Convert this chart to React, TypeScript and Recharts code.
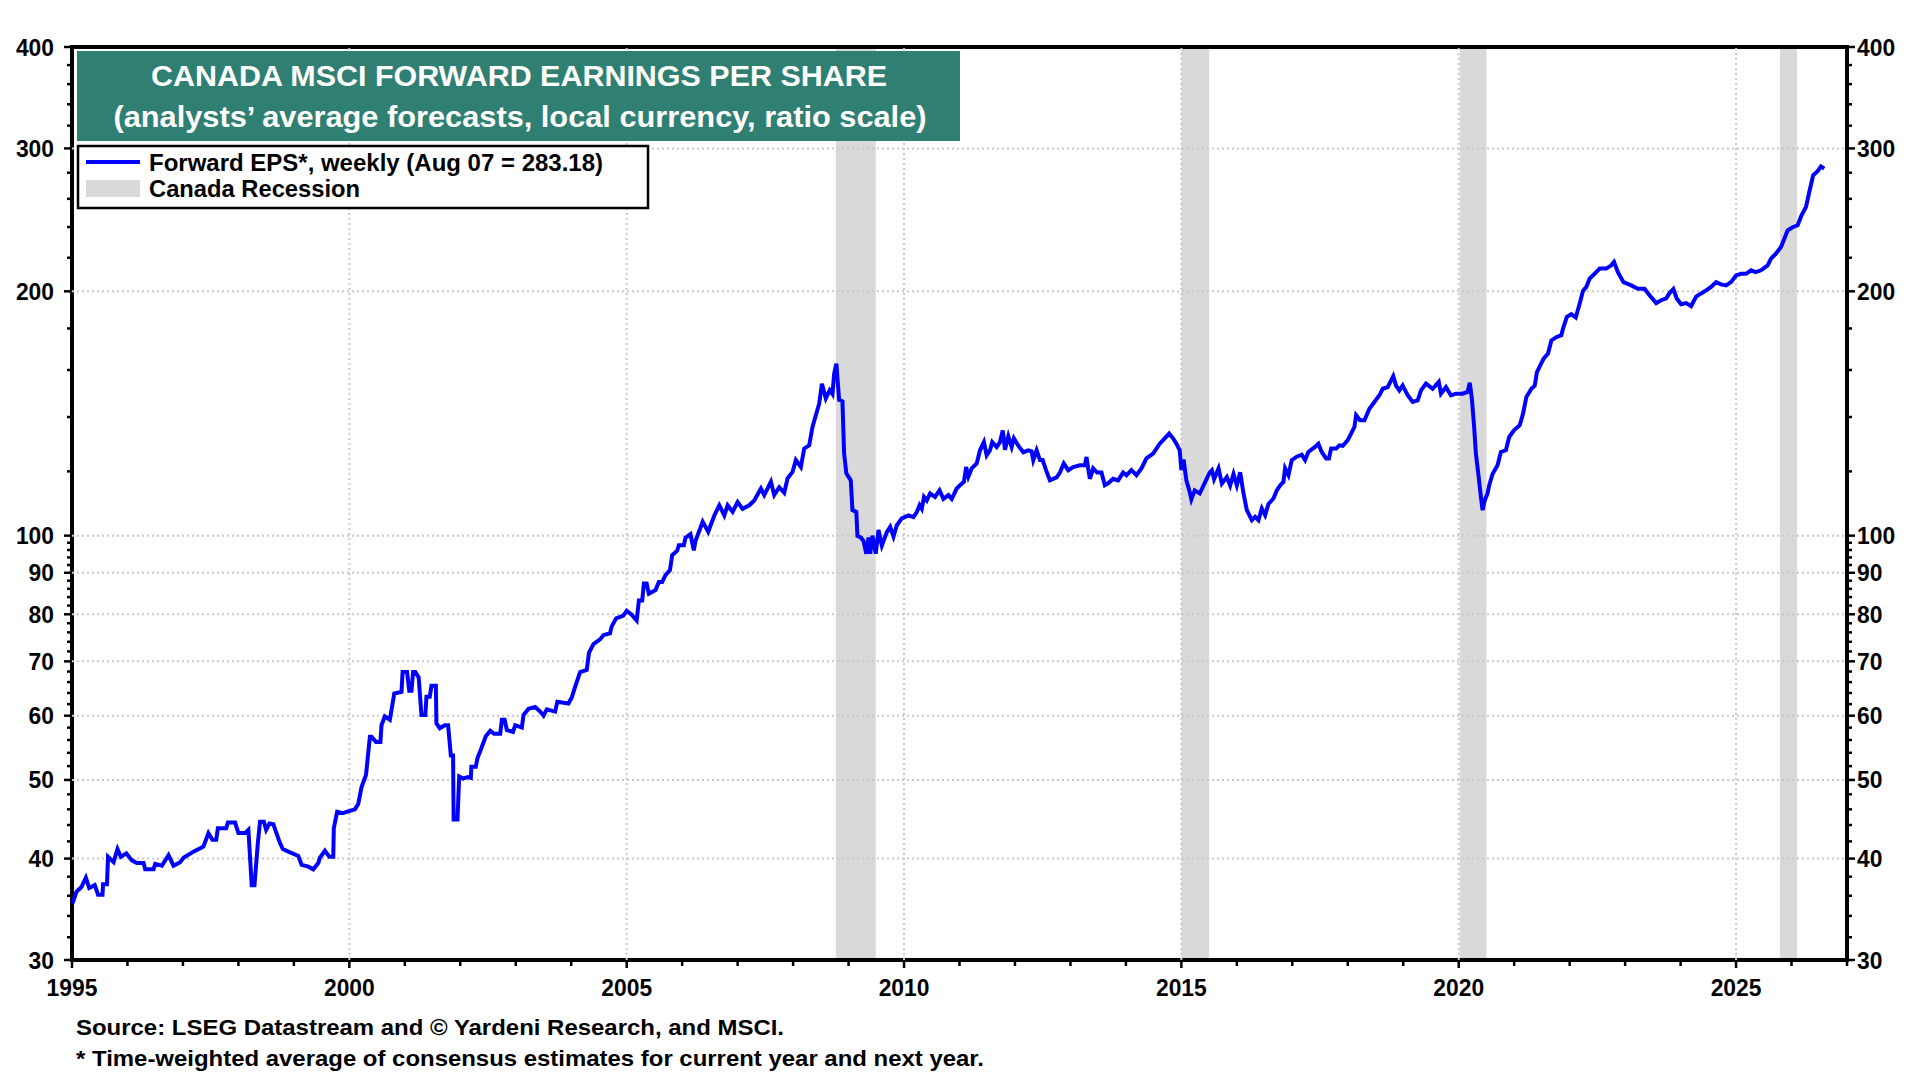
import { LineChart, Line, XAxis, YAxis, ReferenceArea, ReferenceLine } from "recharts";

// Forward EPS (decimal year, value)
const weeks = [
  1995.0, 1995.02, 1995.08, 1995.17, 1995.25, 1995.31, 1995.41, 1995.47, 1995.55, 1995.56, 1995.63, 1995.65, 1995.75, 1995.82, 1995.88, 1995.98,
  1996.08, 1996.17, 1996.29, 1996.32, 1996.47, 1996.5, 1996.62, 1996.74, 1996.83, 1996.95,
  1997.01, 1997.19, 1997.37, 1997.46, 1997.53, 1997.6, 1997.63, 1997.78, 1997.81, 1997.94,
  1998.0, 1998.12, 1998.18, 1998.24, 1998.29, 1998.35, 1998.39, 1998.46, 1998.5, 1998.56, 1998.63, 1998.69, 1998.75, 1998.8, 1998.9,
  1999.08, 1999.14, 1999.26, 1999.35, 1999.44, 1999.47, 1999.56, 1999.64, 1999.71, 1999.72, 1999.78, 1999.88,
  2000.01, 2000.1, 2000.16, 2000.22, 2000.3, 2000.37, 2000.4, 2000.48, 2000.56, 2000.58, 2000.64, 2000.73, 2000.81, 2000.94, 2000.96,
  2001.04, 2001.08, 2001.12, 2001.15, 2001.19, 2001.25, 2001.3, 2001.37, 2001.39, 2001.45, 2001.48, 2001.56, 2001.57, 2001.63, 2001.72, 2001.78, 2001.83, 2001.87, 2001.88, 2001.95, 2001.98,
  2002.05, 2002.14, 2002.19, 2002.2, 2002.28, 2002.31, 2002.38, 2002.46, 2002.54, 2002.61, 2002.72, 2002.75, 2002.8, 2002.84, 2002.95, 2002.99,
  2003.11, 2003.14, 2003.23, 2003.35, 2003.44, 2003.5, 2003.56, 2003.71, 2003.75, 2003.95,
  2004.01, 2004.07, 2004.16, 2004.28, 2004.32, 2004.4, 2004.52, 2004.58, 2004.7, 2004.73, 2004.81, 2004.94,
  2005.0, 2005.09, 2005.18, 2005.22, 2005.28, 2005.31, 2005.36, 2005.4, 2005.52, 2005.58, 2005.64, 2005.7, 2005.78, 2005.82, 2005.91, 2005.94,
  2006.03, 2006.06, 2006.15, 2006.21, 2006.24, 2006.37, 2006.47, 2006.58, 2006.67, 2006.76, 2006.82, 2006.91,
  2007.0, 2007.09, 2007.21, 2007.3, 2007.42, 2007.48, 2007.6, 2007.66, 2007.75, 2007.84, 2007.9, 2007.99,
  2008.05, 2008.14, 2008.2, 2008.29, 2008.35, 2008.41, 2008.47, 2008.52, 2008.59, 2008.66, 2008.71, 2008.74, 2008.78, 2008.83, 2008.89, 2008.92, 2008.96,
  2009.04, 2009.07, 2009.14, 2009.16, 2009.22, 2009.27, 2009.32, 2009.36, 2009.39, 2009.43, 2009.49, 2009.54, 2009.6, 2009.69, 2009.75, 2009.81, 2009.87, 2009.96,
  2010.08, 2010.17, 2010.23, 2010.28, 2010.32, 2010.36, 2010.41, 2010.47, 2010.56, 2010.64, 2010.71, 2010.8, 2010.86, 2010.95,
  2011.01, 2011.08, 2011.12, 2011.16, 2011.22, 2011.31, 2011.37, 2011.44, 2011.49, 2011.55, 2011.59, 2011.67, 2011.73, 2011.78, 2011.82, 2011.88, 2011.94, 2011.98,
  2012.06, 2012.15, 2012.24, 2012.3, 2012.33, 2012.39, 2012.45, 2012.5, 2012.56, 2012.63, 2012.75, 2012.81, 2012.88, 2012.96,
  2013.05, 2013.17, 2013.26, 2013.29, 2013.32, 2013.35, 2013.41, 2013.48, 2013.56, 2013.62, 2013.68, 2013.77, 2013.86, 2013.95,
  2014.01, 2014.1, 2014.19, 2014.28, 2014.37, 2014.49, 2014.61, 2014.7, 2014.78, 2014.85, 2014.91, 2014.97,
  2015.0, 2015.04, 2015.09, 2015.15, 2015.18, 2015.24, 2015.33, 2015.43, 2015.51, 2015.55, 2015.59, 2015.67, 2015.73, 2015.82, 2015.88, 2015.94,
  2016.0, 2016.06, 2016.12, 2016.18, 2016.27, 2016.33, 2016.39, 2016.45, 2016.51, 2016.57, 2016.66, 2016.72, 2016.78, 2016.84, 2016.87, 2016.93, 2016.99,
  2017.08, 2017.17, 2017.23, 2017.29, 2017.41, 2017.47, 2017.53, 2017.61, 2017.66, 2017.7, 2017.79, 2017.85, 2017.91,
  2018.0, 2018.06, 2018.12, 2018.15, 2018.22, 2018.3, 2018.39, 2018.48, 2018.57, 2018.63, 2018.72, 2018.82, 2018.87, 2018.93, 2018.99,
  2019.08, 2019.17, 2019.26, 2019.32, 2019.41, 2019.53, 2019.64, 2019.68, 2019.77, 2019.86, 2019.95,
  2020.07, 2020.16, 2020.2, 2020.24, 2020.28, 2020.31, 2020.36, 2020.4, 2020.43, 2020.47, 2020.52, 2020.55, 2020.61, 2020.7, 2020.76, 2020.85, 2020.91,
  2021.0, 2021.1, 2021.16, 2021.22, 2021.31, 2021.37, 2021.41, 2021.47, 2021.53, 2021.61, 2021.67, 2021.76, 2021.85, 2021.88, 2021.95,
  2022.03, 2022.11, 2022.18, 2022.24, 2022.3, 2022.36, 2022.45, 2022.54, 2022.66, 2022.75, 2022.8, 2022.87, 2022.97,
  2023.11, 2023.23, 2023.35, 2023.44, 2023.56, 2023.65, 2023.74, 2023.8, 2023.87, 2023.93,
  2024.01, 2024.1, 2024.19, 2024.28, 2024.37, 2024.46, 2024.55, 2024.64, 2024.73, 2024.82, 2024.91,
  2025.0, 2025.09, 2025.18, 2025.27, 2025.35, 2025.45, 2025.57, 2025.63, 2025.72, 2025.81, 2025.87, 2025.93,
  2026.02, 2026.11, 2026.18, 2026.26, 2026.32, 2026.39, 2026.47, 2026.53, 2026.59,
];

const forwardEps = [
  35.2, 35.4, 36.4, 36.9, 37.9, 36.8, 37.1, 36.1, 36.1, 37.2, 37.2, 40.2, 39.6, 41.1, 40.2, 40.6,
  39.8, 39.5, 39.5, 38.8, 38.8, 39.4, 39.2, 40.4, 39.2, 39.6,
  40.1, 40.8, 41.4, 43.0, 42.2, 42.2, 43.6, 43.6, 44.3, 44.3,
  43.0, 43.0, 43.4, 37.1, 37.1, 41.8, 44.4, 44.4, 43.4, 44.2, 44.1, 42.9, 41.8, 41.1, 40.8,
  40.3, 39.3, 39.1, 38.8, 39.5, 40.1, 40.9, 40.2, 40.2, 43.6, 45.7, 45.5,
  45.8, 46.0, 46.7, 49.0, 50.7, 56.5, 56.5, 55.7, 55.7, 58.4, 59.9, 59.3, 63.9, 64.2, 67.9,
  67.9, 64.4, 64.4, 67.9, 67.9, 66.9, 60.1, 60.1, 63.3, 63.3, 65.3, 65.3, 58.7, 57.9, 58.4, 58.4, 53.6, 53.6, 44.7, 44.7, 50.5,
  50.2, 50.4, 50.3, 51.9, 51.9, 53.2, 54.7, 56.6, 57.5, 57.0, 57.0, 59.3, 59.3, 57.6, 57.3, 58.4,
  58.0, 60.1, 61.2, 61.5, 60.7, 60.0, 61.1, 60.7, 62.4, 62.1,
  63.2, 65.1, 67.9, 68.3, 71.7, 73.5, 74.5, 75.4, 75.8, 77.3, 79.1, 79.7,
  80.8, 79.9, 78.6, 83.2, 83.2, 87.3, 87.3, 84.8, 85.7, 87.7, 87.7, 89.4, 90.7, 94.6, 95.8, 97.3,
  97.3, 99.4, 100.4, 95.9, 98.5, 104.0, 101.1, 105.9, 109.0, 105.9, 109.0, 107.0,
  110.0, 107.9, 109.0, 110.5, 114.3, 112.2, 116.5, 112.2, 114.7, 112.9, 117.6, 119.8,
  123.9, 121.5, 128.0, 129.2, 136.1, 140.7, 145.4, 153.9, 147.6, 151.1, 149.4, 158.3, 162.9, 147.0, 146.4, 126.2, 119.3,
  117.0, 107.5, 107.0, 99.9, 99.5, 98.5, 95.0, 99.5, 95.0, 100.0, 95.0, 101.6, 97.2, 101.0, 102.5, 99.7, 103.0, 105.0,
  105.9, 105.4, 106.9, 109.0, 107.9, 111.6, 110.5, 112.7, 111.6, 113.7, 111.0, 112.2, 111.0, 114.3,
  115.4, 116.5, 121.5, 118.2, 121.0, 122.7, 127.4, 130.4, 125.6, 127.4, 130.4, 128.6, 130.4, 134.8, 127.6, 132.6, 128.6, 131.8,
  129.1, 126.7, 127.4, 127.0, 123.9, 127.4, 123.9, 123.9, 120.4, 117.0, 118.0, 119.6, 122.7, 120.4,
  121.5, 122.1, 122.1, 125.0, 121.0, 117.5, 121.0, 119.6, 119.6, 115.4, 116.0, 117.5, 117.0, 119.6,
  118.7, 120.4, 118.7, 121.0, 124.5, 126.2, 129.8, 131.8, 133.6, 131.8, 129.8, 127.4,
  120.4, 124.1, 117.0, 113.2, 110.8, 113.7, 112.7, 116.5, 119.6, 120.4, 117.4, 121.0, 115.9, 118.1, 115.3, 119.1,
  115.3, 119.7, 112.7, 107.5, 104.5, 105.5, 104.5, 108.0, 106.0, 109.4, 111.1, 113.7, 115.3, 116.5, 121.0, 118.7, 123.9,
  125.1, 125.8, 123.9, 126.8, 128.6, 129.8, 126.8, 124.5, 124.5, 128.0, 128.0, 129.2, 129.0,
  131.1, 133.6, 136.1, 140.7, 138.7, 138.7, 143.3, 146.1, 148.9, 151.7, 152.4, 157.2, 153.1, 151.0, 153.1,
  148.9, 146.1, 146.8, 151.0, 153.9, 151.7, 154.7, 149.6, 152.4, 148.9, 149.6,
  149.6, 150.3, 154.3, 146.8, 135.5, 126.2, 118.1, 111.6, 107.5, 110.6, 112.7, 115.4, 119.1, 122.1, 126.8, 127.4, 132.3,
  134.9, 136.8, 141.4, 148.2, 151.7, 153.0, 159.0, 162.1, 165.2, 167.6, 174.0, 175.6, 176.6, 179.9, 186.0,
  187.4, 185.7, 193.1, 200.2, 202.5, 207.3, 210.2, 213.3, 213.3, 215.3, 217.4, 211.2, 205.3,
  203.4, 201.5, 201.5, 197.8, 193.4, 195.0, 196.0, 199.0, 201.3, 196.0,
  192.8, 193.4, 191.7, 197.0, 198.8, 200.5, 202.5, 205.3, 204.0, 203.4, 205.3,
  209.2, 210.2, 210.2, 212.3, 211.2, 212.3, 215.3, 219.4, 222.6, 226.8, 232.2, 237.8,
  239.9, 241.2, 248.1, 254.0, 265.1, 277.9, 281.3, 285.0, 283.2,
];

const recessionStart = [2008.77, 2015.0, 2020.02, 2025.79];
const recessionEnd = [2009.49, 2015.5, 2020.5, 2026.1];

const yearTicks = [
  1995, 1996, 1997, 1998, 1999, 2000, 2001, 2002, 2003, 2004, 2005, 2006, 2007, 2008, 2009, 2010, 2011,
  2012, 2013, 2014, 2015, 2016, 2017, 2018, 2019, 2020, 2021, 2022, 2023, 2024, 2025, 2026, 2027,
];
const yearLabels = [1995, 2000, 2005, 2010, 2015, 2020, 2025];

const yLabels = [30, 40, 50, 60, 70, 80, 90, 100, 200, 300, 400];
const yMinor = [
  32, 34, 36, 38, 42, 44, 46, 48, 52, 54, 56, 58, 62, 64, 66, 68, 72, 74, 76, 78,
  82, 84, 86, 88, 92, 94, 96, 98, 120, 140, 160, 180, 220, 240, 260, 280, 320, 340, 360, 380,
];
const yTicks = [...yLabels, ...yMinor].sort((a, b) => a - b);
const yGrid = [40, 50, 60, 70, 80, 90, 100, 200, 300];
const xGrid = [2000, 2005, 2010, 2015, 2020, 2025];

const epsData = weeks.map((week, i) => ({ week, eps: forwardEps[i] }));

const FONT = "'Liberation Sans', Arial, Helvetica, sans-serif";
const TEAL = "#2f7f72";
const BAND = "#d9d9d9";
const GRID = "#c9c9c9";
const DIGIT_W = 12.7; // condensed look of the original tick font

function LeftTick(props: any) {
  const { x, y, payload } = props;
  const major = yLabels.includes(payload.value);
  const label = String(payload.value);
  return (
    <g>
      <line x1={x - (major ? 8 : 5)} x2={x} y1={y} y2={y} stroke="#000" strokeWidth={2.5} />
      {major && (
        <text x={x - 18} y={y} textAnchor="end" dominantBaseline="central" fontFamily={FONT} fontWeight="bold" fontSize={24} fill="#000" textLength={label.length * DIGIT_W} lengthAdjust="spacingAndGlyphs">
          {label}
        </text>
      )}
    </g>
  );
}

function RightTick(props: any) {
  const { x, y, payload } = props;
  const major = yLabels.includes(payload.value);
  const label = String(payload.value);
  return (
    <g>
      <line x1={x} x2={x + (major ? 8 : 5)} y1={y} y2={y} stroke="#000" strokeWidth={2.5} />
      {major && (
        <text x={x + 10} y={y} textAnchor="start" dominantBaseline="central" fontFamily={FONT} fontWeight="bold" fontSize={24} fill="#000" textLength={label.length * DIGIT_W} lengthAdjust="spacingAndGlyphs">
          {label}
        </text>
      )}
    </g>
  );
}

function YearTick(props: any) {
  const { x, y, payload } = props;
  const major = yearLabels.includes(payload.value);
  const label = String(payload.value);
  return (
    <g>
      <line x1={x} x2={x} y1={y} y2={y + (major ? 8 : 6)} stroke="#000" strokeWidth={2.5} />
      {major && (
        <text x={x} y={y + 27} textAnchor="middle" dominantBaseline="central" fontFamily={FONT} fontWeight="bold" fontSize={24} fill="#000" textLength={label.length * DIGIT_W} lengthAdjust="spacingAndGlyphs">
          {label}
        </text>
      )}
    </g>
  );
}

export default function App() {
  return (
    <div style={{ position: "relative", width: 1920, height: 1080, margin: -8, background: "#fff" }}>
      <LineChart width={1920} height={1080} data={epsData} margin={{ top: 47, right: 0, bottom: 80, left: 0 }}>
        <XAxis
          dataKey="week"
          type="number"
          domain={[1995, 2027]}
          ticks={yearTicks}
          interval={0}
          allowDataOverflow
          height={40}
          axisLine={false}
          tickLine={false}
          tickSize={0}
          tickMargin={0}
          tick={<YearTick />}
        />
        <YAxis
          yAxisId="left"
          scale="log"
          type="number"
          domain={[30, 400]}
          ticks={yTicks}
          interval={0}
          allowDataOverflow
          width={72}
          axisLine={false}
          tickLine={false}
          tickSize={0}
          tickMargin={0}
          tick={<LeftTick />}
        />
        <YAxis
          yAxisId="right"
          orientation="right"
          scale="log"
          type="number"
          domain={[30, 400]}
          ticks={yTicks}
          interval={0}
          allowDataOverflow
          width={73}
          axisLine={false}
          tickLine={false}
          tickSize={0}
          tickMargin={0}
          tick={<RightTick />}
        />
        {recessionStart.map((start, i) => (
          <ReferenceArea
            key={`rec-${i}`}
            yAxisId="left"
            x1={start}
            x2={recessionEnd[i]}
            y1={30}
            y2={400}
            fill={BAND}
            fillOpacity={1}
            stroke="none"
          />
        ))}
        {yGrid.map((v) => (
          <ReferenceLine key={`gy-${v}`} yAxisId="left" y={v} stroke={GRID} strokeWidth={2} strokeDasharray="2 3" />
        ))}
        {xGrid.map((v) => (
          <ReferenceLine key={`gx-${v}`} yAxisId="left" x={v} stroke={GRID} strokeWidth={2} strokeDasharray="2 3" />
        ))}
        <Line
          yAxisId="left"
          type="linear"
          dataKey="eps"
          stroke="#0000ff"
          strokeWidth={4}
          dot={false}
          isAnimationActive={false}
        />
        <ReferenceArea
          yAxisId="left"
          x1={1995}
          x2={2027}
          y1={30}
          y2={400}
          fill="none"
          stroke="#000"
          strokeWidth={4}
        />
      </LineChart>
      <svg width={1920} height={1080} style={{ position: "absolute", left: 0, top: 0, pointerEvents: "none" }}>
        <rect x={77} y={51} width={883} height={90} fill={TEAL} />
        <text x={519} y={76} textAnchor="middle" dominantBaseline="central" fontFamily={FONT} fontWeight="bold" fontSize={29} fill="#fff" textLength={736} lengthAdjust="spacingAndGlyphs">
          CANADA MSCI FORWARD EARNINGS PER SHARE
        </text>
        <text x={520} y={117} textAnchor="middle" dominantBaseline="central" fontFamily={FONT} fontWeight="bold" fontSize={29} fill="#fff" textLength={813} lengthAdjust="spacingAndGlyphs">
          (analysts’ average forecasts, local currency, ratio scale)
        </text>
        <rect x={78} y={146} width={570} height={62} fill="#fff" stroke="#000" strokeWidth={2.5} />
        <line x1={86} x2={140} y1={162} y2={162} stroke="#0000ff" strokeWidth={4} />
        <rect x={86} y={180} width={54} height={17} fill={BAND} />
        <text x={149} y={163} dominantBaseline="central" fontFamily={FONT} fontWeight="bold" fontSize={23} fill="#000" textLength={454} lengthAdjust="spacingAndGlyphs">
          Forward EPS*, weekly (Aug 07 = 283.18)
        </text>
        <text x={149} y={189} dominantBaseline="central" fontFamily={FONT} fontWeight="bold" fontSize={23} fill="#000" textLength={211} lengthAdjust="spacingAndGlyphs">
          Canada Recession
        </text>
        <text x={76} y={1027} dominantBaseline="central" fontFamily={FONT} fontWeight="bold" fontSize={22} fill="#000" textLength={708} lengthAdjust="spacingAndGlyphs">
          Source: LSEG Datastream and © Yardeni Research, and MSCI.
        </text>
        <text x={76} y={1058} dominantBaseline="central" fontFamily={FONT} fontWeight="bold" fontSize={22} fill="#000" textLength={908} lengthAdjust="spacingAndGlyphs">
          * Time-weighted average of consensus estimates for current year and next year.
        </text>
      </svg>
    </div>
  );
}
